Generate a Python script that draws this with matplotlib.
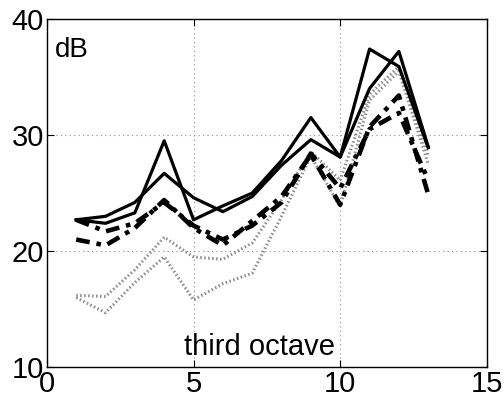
import matplotlib
matplotlib.use("Agg")
import matplotlib.pyplot as plt

x = list(range(1, 14))
solid_a = [22.7, 22.4, 23.3, 29.5, 22.7, 23.9, 25.0, 27.8, 31.5, 28.1, 37.4, 35.9, 28.9]
solid_b = [22.7, 23.0, 24.2, 26.7, 24.6, 23.4, 24.7, 27.4, 29.6, 28.1, 34.0, 37.2, 29.0]
dd_a = [21.0, 20.5, 22.0, 24.4, 22.0, 20.5, 22.6, 24.7, 28.3, 24.0, 30.7, 33.4, 24.9]
dd_b = [22.7, 21.7, 22.4, 24.2, 22.2, 21.0, 22.2, 24.2, 28.4, 25.4, 30.5, 31.9, 26.1]
dot_a = [16.2, 16.1, 18.4, 21.2, 19.5, 19.3, 20.7, 24.4, 28.6, 26.1, 33.5, 35.9, 28.2]
dot_b = [16.0, 14.7, 17.3, 19.5, 15.8, 17.2, 18.1, 23.0, 28.2, 23.8, 33.0, 35.5, 27.5]

plt.rcParams['font.family'] = ['Liberation Sans', 'DejaVu Sans']
fig = plt.figure(figsize=(5.04, 4.01), dpi=100)
ax = fig.add_axes([0.093, 0.084, 0.873, 0.869])

gray = '#8c8c8c'
ax.plot(x, dot_a, color=gray, lw=2.2, linestyle=(0, (0.5, 0.8)))
ax.plot(x, dot_b, color=gray, lw=2.2, linestyle=(0, (0.5, 0.8)))
ax.plot(x, dd_a, color='black', lw=3.3, linestyle=(0, (3, 1.5, 1, 1.5)))
ax.plot(x, dd_b, color='black', lw=3.3, linestyle=(0, (3, 1.5, 1, 1.5)))
ax.plot(x, solid_a, color='black', lw=2.3)
ax.plot(x, solid_b, color='black', lw=2.3)

ax.set_xlim(0, 15)
ax.set_ylim(10, 40)
ax.set_xticks([0, 5, 10, 15])
ax.set_yticks([10, 20, 30, 40])
ax.grid(True, color='#909090', linestyle=(0, (1, 3)), lw=0.8)
ax.tick_params(direction='in', top=True, right=True, labelsize=21, length=5, pad=2)
for s in ax.spines.values():
    s.set_linewidth(1.0)

ax.text(0.28, 36.7, 'dB', fontsize=20, ha='left', va='baseline')
ax.text(7.25, 11.1, 'third octave', fontsize=21, ha='center', va='baseline')

fig.savefig('out.png', dpi=100)
